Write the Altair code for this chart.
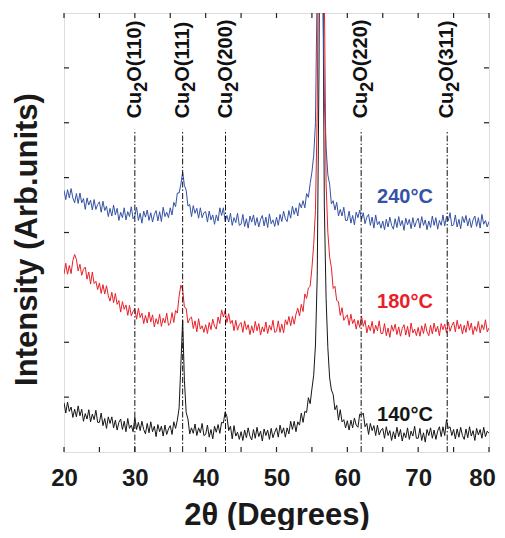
import altair as alt
import pandas as pd

# ---------------- data ----------------
TWO_THETA_START = 20.0
TWO_THETA_STEP = 0.25

black_140 = [
    0.90, 0.71, 0.91, 0.74, 0.82, 0.63, 0.78, 0.64, 0.84, 0.66, 0.78, 0.56, 0.70, 0.60, 0.77, 0.55, 0.69, 0.59, 0.76, 0.54,
    0.54, 0.71, 0.48, 0.61, 0.43, 0.64, 0.52, 0.64, 0.44, 0.58, 0.40, 0.54, 0.60, 0.41, 0.56, 0.37, 0.61, 0.43, 0.49, 0.37,
    0.63, 0.41, 0.54, 0.39, 0.56, 0.41, 0.33, 0.52, 0.35, 0.55, 0.37, 0.47, 0.28, 0.50, 0.37, 0.47, 0.29, 0.49, 0.32, 0.42,
    0.48, 0.32, 0.55, 0.43, 0.58, 0.80, 1.60, 2.40, 1.30, 0.72, 0.60, 0.33, 0.44, 0.34, 0.51, 0.30, 0.44, 0.35, 0.52, 0.30,
    0.32, 0.49, 0.27, 0.41, 0.24, 0.47, 0.36, 0.50, 0.34, 0.54, 0.53, 0.73, 0.65, 0.39, 0.47, 0.24, 0.48, 0.29, 0.36, 0.23,
    0.37, 0.21, 0.40, 0.26, 0.44, 0.29, 0.22, 0.41, 0.25, 0.45, 0.28, 0.38, 0.20, 0.42, 0.30, 0.40, 0.23, 0.43, 0.26, 0.36,
    0.44, 0.27, 0.49, 0.34, 0.44, 0.27, 0.44, 0.33, 0.56, 0.41, 0.56, 0.37, 0.55, 0.49, 0.71, 0.54, 0.74, 0.72, 0.99, 0.88,
    1.15, 1.40, 1.95, 3.20, 7.00, 14.0, 10.0, 4.50, 2.80, 1.90, 1.35, 1.13, 1.05, 0.77, 0.85, 0.58, 0.77, 0.55, 0.59, 0.44,
    0.57, 0.40, 0.58, 0.44, 0.62, 0.49, 0.45, 0.69, 0.67, 0.71, 0.46, 0.52, 0.32, 0.52, 0.39, 0.48, 0.30, 0.49, 0.31, 0.40,
    0.43, 0.25, 0.46, 0.30, 0.39, 0.21, 0.37, 0.24, 0.45, 0.28, 0.41, 0.20, 0.35, 0.26, 0.44, 0.23, 0.38, 0.29, 0.47, 0.25,
    0.25, 0.43, 0.21, 0.35, 0.18, 0.41, 0.30, 0.44, 0.25, 0.40, 0.23, 0.38, 0.46, 0.28, 0.46, 0.30, 0.59, 0.43, 0.46, 0.30,
    0.41, 0.24, 0.42, 0.27, 0.45, 0.30, 0.23, 0.42, 0.26, 0.46, 0.29, 0.39, 0.21, 0.43, 0.31, 0.41, 0.25, 0.45, 0.28, 0.38,
    0.34,
]

red_180 = [
    3.24, 3.44, 3.24, 3.40, 3.25, 3.49, 3.60, 3.51, 3.30, 3.42, 3.22, 3.33, 3.37, 3.15, 3.28, 3.06, 3.28, 3.07, 3.11, 2.96,
    3.08, 2.89, 3.05, 2.88, 3.03, 2.85, 2.75, 2.91, 2.72, 2.89, 2.69, 2.76, 2.55, 2.74, 2.60, 2.68, 2.49, 2.67, 2.48, 2.56,
    2.61, 2.42, 2.62, 2.45, 2.53, 2.34, 2.49, 2.35, 2.55, 2.37, 2.50, 2.28, 2.43, 2.33, 2.51, 2.29, 2.44, 2.35, 2.53, 2.31,
    2.34, 2.54, 2.36, 2.58, 2.53, 2.84, 3.04, 2.96, 2.64, 2.62, 2.35, 2.43, 2.46, 2.25, 2.39, 2.19, 2.43, 2.24, 2.30, 2.18,
    2.32, 2.16, 2.36, 2.23, 2.42, 2.29, 2.24, 2.46, 2.34, 2.59, 2.46, 2.58, 2.36, 2.52, 2.34, 2.40, 2.21, 2.40, 2.22, 2.32,
    2.36, 2.18, 2.39, 2.23, 2.32, 2.14, 2.30, 2.17, 2.38, 2.21, 2.34, 2.13, 2.28, 2.19, 2.37, 2.16, 2.31, 2.22, 2.40, 2.18,
    2.20, 2.39, 2.18, 2.33, 2.17, 2.41, 2.32, 2.47, 2.30, 2.47, 2.33, 2.51, 2.62, 2.48, 2.69, 2.56, 2.88, 2.80, 2.99, 3.02,
    3.35, 3.78, 4.40, 6.20, 11.0, 18.0, 14.0, 8.40, 4.90, 4.00, 3.55, 3.36, 2.98, 3.02, 2.76, 2.74, 2.49, 2.63, 2.40, 2.46,
    2.50, 2.31, 2.51, 2.34, 2.42, 2.24, 2.40, 2.27, 2.48, 2.29, 2.40, 2.17, 2.31, 2.21, 2.38, 2.16, 2.31, 2.21, 2.39, 2.16,
    2.16, 2.34, 2.12, 2.26, 2.09, 2.31, 2.20, 2.33, 2.14, 2.28, 2.11, 2.25, 2.32, 2.13, 2.29, 2.10, 2.35, 2.17, 2.24, 2.12,
    2.27, 2.11, 2.30, 2.16, 2.34, 2.19, 2.12, 2.31, 2.15, 2.35, 2.19, 2.29, 2.12, 2.34, 2.23, 2.33, 2.17, 2.37, 2.20, 2.30,
    2.37, 2.19, 2.40, 2.24, 2.33, 2.15, 2.31, 2.18, 2.39, 2.22, 2.35, 2.14, 2.29, 2.20, 2.38, 2.17, 2.32, 2.23, 2.41, 2.19,
    2.26,
]

blue_240 = [
    4.77, 4.60, 4.78, 4.63, 4.80, 4.63, 4.54, 4.71, 4.53, 4.72, 4.54, 4.62, 4.42, 4.63, 4.50, 4.59, 4.41, 4.60, 4.42, 4.51,
    4.56, 4.37, 4.57, 4.40, 4.48, 4.29, 4.44, 4.30, 4.50, 4.32, 4.44, 4.22, 4.37, 4.27, 4.45, 4.23, 4.38, 4.29, 4.47, 4.25,
    4.30, 4.46, 4.22, 4.35, 4.17, 4.39, 4.28, 4.41, 4.22, 4.36, 4.19, 4.33, 4.40, 4.21, 4.38, 4.20, 4.46, 4.29, 4.37, 4.27,
    4.45, 4.32, 4.55, 4.47, 4.72, 4.72, 4.88, 5.10, 4.86, 4.77, 4.48, 4.51, 4.29, 4.49, 4.35, 4.44, 4.26, 4.45, 4.27, 4.36,
    4.38, 4.19, 4.39, 4.23, 4.32, 4.15, 4.32, 4.21, 4.45, 4.31, 4.45, 4.20, 4.31, 4.19, 4.35, 4.13, 4.27, 4.18, 4.35, 4.13,
    4.15, 4.33, 4.11, 4.25, 4.08, 4.30, 4.19, 4.32, 4.13, 4.27, 4.10, 4.24, 4.31, 4.12, 4.28, 4.09, 4.34, 4.16, 4.23, 4.11,
    4.28, 4.13, 4.33, 4.20, 4.39, 4.25, 4.20, 4.40, 4.26, 4.48, 4.33, 4.45, 4.30, 4.54, 4.45, 4.58, 4.45, 4.71, 4.64, 4.89,
    5.10, 5.40, 6.00, 8.60, 15.0, 14.0, 9.00, 6.40, 5.55, 5.05, 4.88, 4.52, 4.58, 4.41, 4.55, 4.30, 4.42, 4.30, 4.46, 4.22,
    4.22, 4.39, 4.17, 4.31, 4.14, 4.37, 4.27, 4.41, 4.24, 4.36, 4.16, 4.28, 4.33, 4.13, 4.28, 4.08, 4.32, 4.14, 4.20, 4.08,
    4.21, 4.05, 4.24, 4.10, 4.28, 4.13, 4.06, 4.25, 4.09, 4.29, 4.12, 4.22, 4.04, 4.26, 4.14, 4.24, 4.07, 4.27, 4.10, 4.20,
    4.26, 4.08, 4.29, 4.13, 4.23, 4.05, 4.21, 4.09, 4.30, 4.13, 4.27, 4.06, 4.22, 4.13, 4.32, 4.12, 4.29, 4.21, 4.36, 4.12,
    4.14, 4.32, 4.10, 4.24, 4.07, 4.29, 4.18, 4.31, 4.12, 4.26, 4.09, 4.23, 4.30, 4.11, 4.27, 4.08, 4.33, 4.15, 4.22, 4.10,
    4.20,
]

series_names = ["140°C", "180°C", "240°C"]
series_colors = ["#161616", "#e8202a", "#3552a4"]
temp_label_x = [64.2, 64.2, 64.2]
temp_label_y = [0.67, 2.74, 4.65]

peak_pos = [30.0, 36.75, 42.8, 61.95, 74.1]
peak_hkl = ["O(110)", "O(111)", "O(200)", "O(220)", "O(311)"]
peak_line_top = 5.87
peak_label_base = 6.08

x_tick_vals = [20, 25, 30, 35, 40, 45, 50, 55, 60, 65, 70, 75, 80]
x_label_vals = [20, 30, 40, 50, 60, 70, 80]
y_tick_vals = [1, 2, 3, 4, 5, 6, 7]

# ---------------- chart ----------------
W, H = 425, 439
FONT = "Liberation Sans"


def series_frame(vals, name):
    return pd.DataFrame({
        "x": [TWO_THETA_START + TWO_THETA_STEP * i for i in range(len(vals))],
        "y": vals,
        "s": name,
    })


xs = alt.Scale(domain=[20, 80], nice=False, zero=False)
ys = alt.Scale(domain=[0, 8], nice=False, zero=False)
cs = alt.Scale(domain=series_names, range=series_colors)

x_axis = alt.Axis(
    values=x_label_vals, ticks=False, domain=False, grid=False,
    labelFont=FONT, labelFontSize=24, labelFontWeight="bold", labelColor="#1a1a1a",
    labelPadding=14, labelFlush=False, labelOverlap=False,
    labelOffset={"expr": "datum.value == 80 ? -7 : 0"},
    title="2θ (Degrees)", titleFont=FONT, titleFontSize=31, titleFontWeight="bold",
    titleColor="#1a1a1a", titleY=72, titleBaseline="alphabetic",
)
y_axis = alt.Axis(
    labels=False, ticks=False, domain=False, grid=False,
    title="Intensity (Arb.units)", titleFont=FONT, titleFontSize=31, titleFontWeight="bold",
    titleColor="#1a1a1a", titleX=-37, titleY=226, titleBaseline="middle",
)

X = alt.X("x:Q", scale=xs, axis=x_axis)
Y = alt.Y("y:Q", scale=ys, axis=y_axis)
C = alt.Color("s:N", scale=cs, legend=None)

lines = []
for vals, name in [(black_140, "140°C"), (blue_240, "240°C"), (red_180, "180°C")]:
    lines.append(
        alt.Chart(series_frame(vals, name)).mark_line(strokeWidth=1, clip=True).encode(x=X, y=Y, color=C)
    )

peaks_df = pd.DataFrame({"x": peak_pos, "y": [0.0] * len(peak_pos),
                         "y2": [peak_line_top] * len(peak_pos),
                         "yl": [peak_label_base] * len(peak_pos),
                         "hkl": peak_hkl})

peak_rules = alt.Chart(peaks_df).mark_rule(
    color="#111111", strokeWidth=1, strokeDash=[6, 2, 1.5, 2]
).encode(x=X, y=Y, y2=alt.Y2("y2:Q"))

txt_common = dict(angle=270, align="left", baseline="middle", font=FONT,
                  fontWeight="bold", color="#111111")
YL = alt.Y("yl:Q", scale=ys, axis=y_axis)
lbl_cu = alt.Chart(peaks_df).mark_text(fontSize=20, **txt_common).encode(
    x=X, y=YL, text=alt.value("Cu"))
lbl_2 = alt.Chart(peaks_df).mark_text(fontSize=18, dx=26.7, dy=7, **txt_common).encode(
    x=X, y=YL, text=alt.value("2"))
lbl_o = alt.Chart(peaks_df).mark_text(fontSize=20, dx=36.6, **txt_common).encode(
    x=X, y=YL, text="hkl:N")

temps_df = pd.DataFrame({"x": temp_label_x, "y": temp_label_y, "s": series_names})
temp_text = alt.Chart(temps_df).mark_text(
    align="left", baseline="middle", font=FONT, fontSize=20, fontWeight="bold"
).encode(x=X, y=Y, color=C, text="s:N")

xt_df = pd.DataFrame({"x": x_tick_vals})
yt_df = pd.DataFrame({"y": y_tick_vals})
tick_style = dict(color="#222222", strokeWidth=1.2)
bottom_ticks = alt.Chart(xt_df).mark_rule(**tick_style).encode(
    x=X, y=alt.value(H), y2=alt.value(H - 5))
top_ticks = alt.Chart(xt_df).mark_rule(**tick_style).encode(
    x=X, y=alt.value(0), y2=alt.value(5))
left_ticks = alt.Chart(yt_df).mark_rule(**tick_style).encode(
    y=Y, x=alt.value(0), x2=alt.value(5))
right_ticks = alt.Chart(yt_df).mark_rule(**tick_style).encode(
    y=Y, x=alt.value(W), x2=alt.value(W - 5))

chart = alt.layer(
    *lines, peak_rules, lbl_cu, lbl_2, lbl_o, temp_text,
    bottom_ticks, top_ticks, left_ticks, right_ticks,
).properties(
    width=W, height=H,
    autosize=alt.AutoSizeParams(type="none"),
    padding={"left": 56, "top": 5, "right": 8, "bottom": 78},
).configure_view(
    stroke="#222222", strokeWidth=2
).configure(background="white")

chart.save("out.html", embed_options={"renderer": "svg", "actions": False})
